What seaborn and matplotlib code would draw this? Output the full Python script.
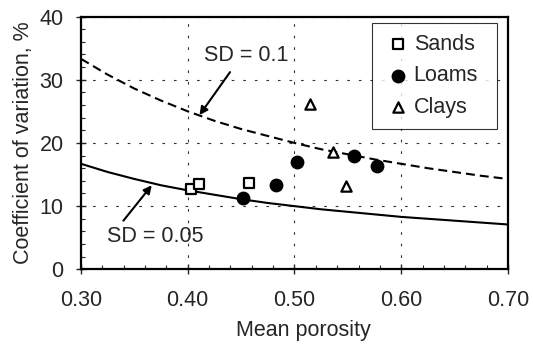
import numpy as np
import seaborn as sns
import matplotlib.pyplot as plt
from matplotlib.ticker import MultipleLocator

# data
curve_x = [0.300, 0.325, 0.350, 0.375, 0.400, 0.425, 0.450, 0.475, 0.500,
           0.525, 0.550, 0.575, 0.600, 0.625, 0.650, 0.675, 0.700]
cv_sd01 = [33.3, 30.8, 28.6, 26.7, 25.0, 23.5, 22.2, 21.1, 20.0,
           19.0, 18.2, 17.4, 16.7, 16.0, 15.4, 14.8, 14.3]
cv_sd005 = [16.7, 15.4, 14.3, 13.3, 12.5, 11.8, 11.1, 10.5, 10.0,
            9.5, 9.1, 8.7, 8.3, 8.0, 7.7, 7.4, 7.1]

sands_x = [0.403, 0.411, 0.457]
sands_y = [12.7, 13.5, 13.7]
loams_x = [0.452, 0.483, 0.502, 0.556, 0.577]
loams_y = [11.3, 13.4, 17.0, 18.0, 16.3]
clays_x = [0.515, 0.536, 0.548]
clays_y = [26.2, 18.6, 13.2]

x_ticks = [0.30, 0.40, 0.50, 0.60, 0.70]
y_ticks = [0, 10, 20, 30, 40]

sns.set_style("white")
plt.rcParams['font.family'] = ['Liberation Sans', 'DejaVu Sans']
FS = 15.5

fig = plt.figure(figsize=(5.33, 3.44), dpi=100)
ax = fig.add_axes([0.152, 0.217, 0.801, 0.735])

sns.lineplot(x=curve_x, y=cv_sd01, ax=ax, color='black', lw=1.5,
             linestyle=(0, (4.3, 2.4)))
sns.lineplot(x=curve_x, y=cv_sd005, ax=ax, color='black', lw=1.5)

sns.scatterplot(x=sands_x, y=sands_y, ax=ax, marker='s', s=60, color='white',
                edgecolor='black', linewidth=1.6, label='Sands', zorder=5)
sns.scatterplot(x=loams_x, y=loams_y, ax=ax, marker='o', s=80, color='black',
                edgecolor='black', linewidth=1, label='Loams', zorder=5)
sns.scatterplot(x=clays_x, y=clays_y, ax=ax, marker='^', s=55, color='white',
                edgecolor='black', linewidth=1.6, label='Clays', zorder=5)

ax.set_xlim(0.30, 0.70)
ax.set_ylim(0, 40)
ax.set_xticks(x_ticks)
ax.set_xticklabels([f"{v:.2f}" for v in x_ticks])
ax.set_yticks(y_ticks)
ax.xaxis.set_minor_locator(MultipleLocator(0.02))
ax.yaxis.set_minor_locator(MultipleLocator(2))
ax.tick_params(axis='both', which='major', direction='inout', length=7, width=1,
               labelsize=FS, left=True, bottom=True)
ax.tick_params(axis='x', which='major', pad=11.5)
ax.tick_params(axis='y', which='major', pad=9)
ax.tick_params(axis='both', which='minor', direction='in', length=3, width=0.8,
               left=True, bottom=True)
ax.grid(True, which='major', linestyle=(0, (2.4, 8)), color='#333333', lw=0.8)
for sp in ax.spines.values():
    sp.set_color('black')
    sp.set_linewidth(1.6)

ax.set_xlabel("Mean porosity", fontsize=FS, labelpad=2)
ax.xaxis.set_label_coords(0.52, -0.2, transform=ax.transAxes)
ax.xaxis.label.set_va('top')
ax.set_ylabel("Coefficient of variation, %", fontsize=FS, labelpad=4)

# labels and arrows pointing at the two curves
arrow = dict(arrowstyle='-|>', color='black', lw=1.5, shrinkA=0, shrinkB=0,
             mutation_scale=12)
ax.text(0.4545, 33.8, "SD = 0.1", ha='center', va='center', fontsize=FS)
ax.annotate("", xy=(0.411, 24.4), xytext=(0.4396, 31.2), arrowprops=arrow)
ax.text(0.3696, 5.2, "SD = 0.05", ha='center', va='center', fontsize=FS)
ax.annotate("", xy=(0.3663, 13.3), xytext=(0.3397, 7.7), arrowprops=arrow)

leg = ax.legend(loc='upper left', fontsize=FS, frameon=True, fancybox=False,
                edgecolor='black', handletextpad=0.05, handlelength=1.4,
                borderpad=0.5, labelspacing=0.5, borderaxespad=0,
                mode='expand', bbox_to_anchor=(0.681, 0.58, 0.2925, 0.395))
leg.get_frame().set_linewidth(0.8)

fig.savefig("out.png", dpi=100)
